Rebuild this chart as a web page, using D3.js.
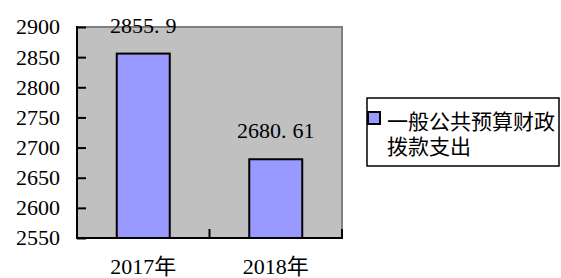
<!DOCTYPE html>
<html>
<head>
<meta charset="utf-8">
<script src="https://cdn.jsdelivr.net/npm/d3@7"></script>
<style>
  body { margin: 0; background: #fff; }
  svg { display: block; }
  .num { font-family: "Liberation Serif", "Noto Sans CJK SC", serif; }
  .leg { font-family: "Noto Sans CJK SC", sans-serif; }
</style>
</head>
<body>
<svg id="svg1" width="561" height="278"></svg>
<script>
var categories = ['2017年', '2018年'];
var values = [2855.9, 2680.61];
var valueLabels = ['2855.9', '2680.61'];
var yTicks = [2550, 2600, 2650, 2700, 2750, 2800, 2850, 2900];
var seriesName = ['一般公共预算财政', '拨款支出'];

var svg = d3.select('#svg1');
var plotLeft = 77, plotRight = 342, plotTop = 27, plotBottom = 238;

var x = d3.scaleBand().domain(categories).range([plotLeft, plotRight]).paddingInner(0.6).paddingOuter(0.3);
var y = d3.scaleLinear().domain([2550, 2900]).range([plotBottom, plotTop]);

// plot area
svg.append('rect')
    .attr('x', plotLeft).attr('y', plotTop)
    .attr('width', plotRight - plotLeft).attr('height', plotBottom - plotTop)
    .attr('fill', '#c0c0c0')
    .attr('stroke', '#808080')
    .attr('stroke-width', 2);

// bars
svg.selectAll('.bar').data(values).enter().append('rect')
    .attr('class', 'bar')
    .attr('x', function (d, i) { return x(categories[i]); })
    .attr('y', function (d) { return y(d); })
    .attr('width', x.bandwidth())
    .attr('height', function (d) { return plotBottom - y(d); })
    .attr('fill', '#9999ff')
    .attr('stroke', '#000')
    .attr('stroke-width', 2);

// y axis, ticks inside
var yAxis = svg.append('g').attr('transform', 'translate(' + plotLeft + ',0)')
    .call(d3.axisRight(y).tickValues(yTicks).tickSize(9).tickFormat(''));
yAxis.select('.domain').remove();
yAxis.selectAll('line').attr('stroke', '#000').attr('stroke-width', 2);
svg.append('line').attr('x1', plotLeft).attr('x2', plotLeft).attr('y1', plotTop - 1).attr('y2', plotBottom + 1)
    .attr('stroke', '#000').attr('stroke-width', 2);

svg.selectAll('.ylab').data(yTicks).enter().append('text')
    .attr('class', 'num')
    .attr('x', 60)
    .attr('y', function (d) { return y(d); })
    .attr('dy', '0.34em')
    .attr('text-anchor', 'end')
    .attr('font-size', 22)
    .attr('fill', '#000')
    .text(function (d) { return d; });

// x axis
svg.append('line').attr('x1', plotLeft - 1).attr('x2', plotRight + 1).attr('y1', plotBottom).attr('y2', plotBottom)
    .attr('stroke', '#000').attr('stroke-width', 2);
var step = (plotRight - plotLeft) / categories.length;
var xTickPos = d3.range(categories.length + 1).map(function (i) { return plotLeft + i * step; });
svg.selectAll('.xtick').data(xTickPos).enter().append('line')
    .attr('x1', function (d) { return d; }).attr('x2', function (d) { return d; })
    .attr('y1', plotBottom).attr('y2', plotBottom - 9)
    .attr('stroke', '#000').attr('stroke-width', 2);

svg.selectAll('.xlab').data(categories).enter().append('text')
    .attr('class', 'num')
    .attr('x', function (d) { return x(d) + x.bandwidth() / 2; })
    .attr('y', 274)
    .attr('text-anchor', 'middle')
    .attr('font-size', 22)
    .attr('fill', '#000')
    .text(function (d) { return d; });

// value labels (period drawn full width like the original font)
var vl = svg.selectAll('.vlab').data(valueLabels).enter().append('text')
    .attr('class', 'num')
    .attr('x', function (d, i) { return x(categories[i]) + x.bandwidth() / 2; })
    .attr('y', function (d, i) { return y(values[i]) - 21; })
    .attr('text-anchor', 'middle')
    .attr('font-size', 22)
    .attr('fill', '#000');
vl.append('tspan').text(function (d) { return d.split('.')[0] + '.'; });
vl.append('tspan').attr('dx', 6).text(function (d) { return d.split('.')[1]; });

// legend
var lg = svg.append('g');
lg.append('rect').attr('x', 367).attr('y', 98).attr('width', 192).attr('height', 68)
    .attr('fill', '#fff').attr('stroke', '#000').attr('stroke-width', 1.5);
lg.append('rect').attr('x', 368).attr('y', 112).attr('width', 12).attr('height', 12)
    .attr('fill', '#9999ff').attr('stroke', '#000').attr('stroke-width', 2);
var ltxt = lg.append('text')
    .attr('class', 'leg')
    .attr('font-size', 21)
    .attr('fill', '#000');
ltxt.selectAll('tspan').data(seriesName).enter().append('tspan')
    .attr('x', 387)
    .attr('y', function (d, i) { return 128.5 + i * 25; })
    .text(function (d) { return d; });
</script>
</body>
</html>
